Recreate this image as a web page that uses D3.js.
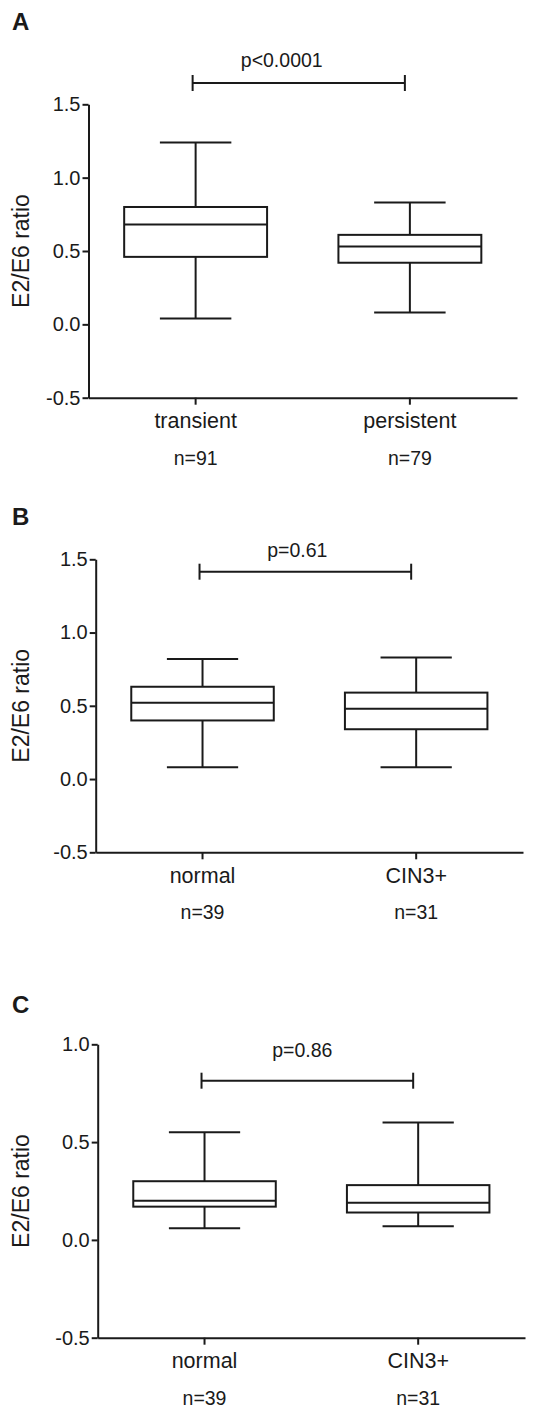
<!DOCTYPE html>
<html>
<head>
<meta charset="utf-8">
<script src="https://cdn.jsdelivr.net/npm/d3@7"></script>
<style>
  body { margin: 0; background: #fff; }
  text { font-family: Arial, "Liberation Sans", sans-serif; fill: #1a1a1a; }
</style>
</head>
<body>
<div id="chart"></div>
<script>
// box stats are [min, q1, median, q3, max]

// panel A
const groupsA = ["transient", "persistent"];
const countsA = ["n=91", "n=79"];
const boxesA = [[0.04, 0.46, 0.68, 0.80, 1.24], [0.08, 0.42, 0.53, 0.61, 0.83]];
const ticksA = [-0.5, 0.0, 0.5, 1.0, 1.5];
const pA = "p<0.0001";

// panel B
const groupsB = ["normal", "CIN3+"];
const countsB = ["n=39", "n=31"];
const boxesB = [[0.08, 0.40, 0.52, 0.63, 0.82], [0.08, 0.34, 0.48, 0.59, 0.83]];
const ticksB = [-0.5, 0.0, 0.5, 1.0, 1.5];
const pB = "p=0.61";

// panel C
const groupsC = ["normal", "CIN3+"];
const countsC = ["n=39", "n=31"];
const boxesC = [[0.06, 0.17, 0.20, 0.30, 0.55], [0.07, 0.14, 0.19, 0.28, 0.60]];
const ticksC = [-0.5, 0.0, 0.5, 1.0];
const pC = "p=0.86";

const ink = "#1a1a1a";

const svg = d3
    .select("#chart")
    .append("svg")
    .attr("width", 539)
    .attr("height", 1408);

function boxPanel(opt) {
    const g = svg.append("g");

    const y = d3
        .scaleLinear()
        .domain(d3.extent(opt.ticks))
        .range([opt.bottom, opt.top]);

    const x = d3
        .scaleBand()
        .domain(opt.groups)
        .range([opt.left, opt.right])
        .padding(0);

    const boxW = x.bandwidth() * 0.667;
    const capW = boxW / 2;

    // panel letter
    g.append("text")
        .attr("x", 12)
        .attr("y", opt.letterY)
        .style("font-size", "24px")
        .style("font-weight", "bold")
        .text(opt.letter);

    // y axis
    const yAxis = g
        .append("g")
        .attr("transform", `translate(${opt.left},0)`)
        .call(d3.axisLeft(y)
            .tickValues(opt.ticks)
            .tickFormat((d) => d.toFixed(1))
            .tickSize(6)
            .tickSizeOuter(0)
            .tickPadding(2));
    yAxis.selectAll("text").style("font-size", "20px").attr("fill", ink);

    // x axis
    const xAxis = g
        .append("g")
        .attr("transform", `translate(0,${opt.bottom})`)
        .call(d3.axisBottom(x).tickSize(7).tickSizeOuter(0).tickPadding(8));
    xAxis.selectAll("text").style("font-size", "21.5px").attr("fill", ink);

    g.selectAll(".domain, .tick line")
        .attr("stroke", ink)
        .attr("stroke-width", 2);

    // n= counts under the group labels
    g.selectAll(".count")
        .data(opt.groups)
        .enter()
        .append("text")
        .attr("class", "count")
        .attr("x", (d) => x(d) + x.bandwidth() / 2)
        .attr("y", opt.bottom + 67)
        .style("text-anchor", "middle")
        .style("font-size", "19.5px")
        .text((d, i) => opt.counts[i]);

    // y label
    g.append("text")
        .attr("transform", `translate(29,${(opt.top + opt.bottom) / 2}) rotate(-90)`)
        .style("text-anchor", "middle")
        .style("font-size", "23px")
        .text("E2/E6 ratio");

    // boxes
    const box = g
        .selectAll(".box")
        .data(opt.boxes)
        .enter()
        .append("g")
        .attr("class", "box")
        .attr("transform", (d, i) => `translate(${x(opt.groups[i]) + x.bandwidth() / 2},0)`);

    box.append("line")
        .attr("x1", 0).attr("x2", 0)
        .attr("y1", (d) => y(d[0]))
        .attr("y2", (d) => y(d[1]));
    box.append("line")
        .attr("x1", 0).attr("x2", 0)
        .attr("y1", (d) => y(d[3]))
        .attr("y2", (d) => y(d[4]));
    box.append("line")
        .attr("x1", -capW / 2).attr("x2", capW / 2)
        .attr("y1", (d) => y(d[0]))
        .attr("y2", (d) => y(d[0]));
    box.append("line")
        .attr("x1", -capW / 2).attr("x2", capW / 2)
        .attr("y1", (d) => y(d[4]))
        .attr("y2", (d) => y(d[4]));
    box.append("rect")
        .attr("x", -boxW / 2)
        .attr("width", boxW)
        .attr("y", (d) => y(d[3]))
        .attr("height", (d) => y(d[1]) - y(d[3]))
        .attr("fill", "#fff");
    box.append("line")
        .attr("x1", -boxW / 2).attr("x2", boxW / 2)
        .attr("y1", (d) => y(d[2]))
        .attr("y2", (d) => y(d[2]));
    box.selectAll("line, rect")
        .attr("stroke", ink)
        .attr("stroke-width", 2);

    // significance bracket
    const bx1 = x(opt.groups[0]) + x.bandwidth() / 2 - 3;
    const bx2 = x(opt.groups[1]) + x.bandwidth() / 2 - 5;
    const br = g.append("g")
        .attr("stroke", ink)
        .attr("stroke-width", 2);
    br.append("line").attr("x1", bx1).attr("x2", bx2).attr("y1", opt.bracketY).attr("y2", opt.bracketY);
    br.append("line").attr("x1", bx1).attr("x2", bx1).attr("y1", opt.bracketY - 8).attr("y2", opt.bracketY + 8);
    br.append("line").attr("x1", bx2).attr("x2", bx2).attr("y1", opt.bracketY - 8).attr("y2", opt.bracketY + 8);

    g.append("text")
        .attr("x", (bx1 + bx2) / 2 + opt.pDx)
        .attr("y", opt.pY)
        .style("text-anchor", "middle")
        .style("font-size", "19.5px")
        .text(opt.p);
}

boxPanel({
    letter: "A", letterY: 30,
    groups: groupsA, counts: countsA, boxes: boxesA, ticks: ticksA, p: pA,
    left: 88.5, right: 517, top: 104.3, bottom: 397.7,
    bracketY: 83, pY: 67, pDx: -17
});

boxPanel({
    letter: "B", letterY: 525,
    groups: groupsB, counts: countsB, boxes: boxesB, ticks: ticksB, p: pB,
    left: 95.7, right: 523, top: 559.3, bottom: 852.3,
    bracketY: 571.7, pY: 557, pDx: -8
});

boxPanel({
    letter: "C", letterY: 1013,
    groups: groupsC, counts: countsC, boxes: boxesC, ticks: ticksC, p: pC,
    left: 97.7, right: 525, top: 1044.3, bottom: 1337.7,
    bracketY: 1080.7, pY: 1057, pDx: -5
});
</script>
</body>
</html>
